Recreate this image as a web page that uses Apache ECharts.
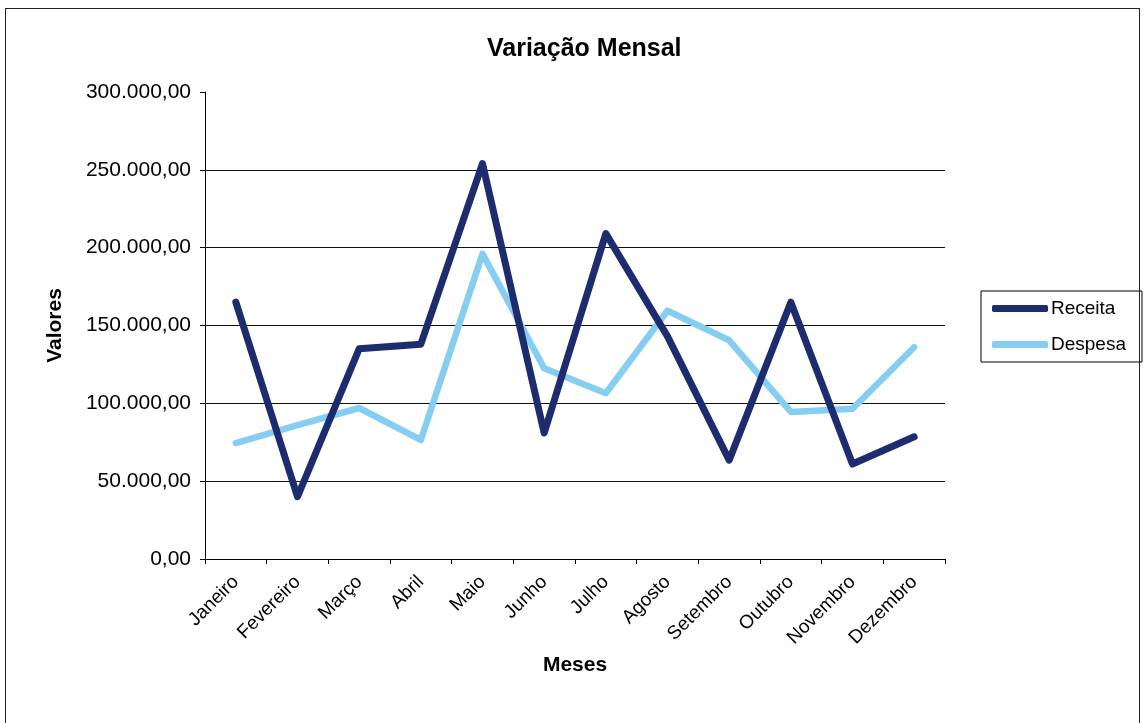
<!doctype html>
<html>
  <head>
    <meta charset="utf-8">
    <script src="https://cdn.jsdelivr.net/npm/echarts@6/dist/echarts.min.js"></script>
    <style type="text/css">
      html,body{margin:0;padding:0;background:#fff;}
      .frame{position:absolute;left:5px;top:8px;width:1135px;height:730px;border:1.5px solid #222;box-sizing:border-box;}
      #main{position:absolute;left:0;top:0;width:1144px;height:723px;}
    </style>
  </head>
  <body>
    <div class="frame"></div>
    <div id="main"></div>
<script>
var meses = ['Janeiro','Fevereiro','Março','Abril','Maio','Junho','Julho','Agosto','Setembro','Outubro','Novembro','Dezembro'];
var receita = [165000, 40000, 135000, 138000, 254000, 81000, 209000, 143000, 63500, 165000, 61000, 78500];
var despesa = [74500, 86000, 97000, 76500, 196000, 122500, 106500, 159500, 140500, 94500, 96500, 136000];
var yTicks = [0, 50000, 100000, 150000, 200000, 250000, 300000];

// 1234567 -> 1.234.567,00
function fmt(v){
  var s = Math.round(v).toString().replace(/\B(?=(\d{3})+(?!\d))/g, '.');
  return s + ',00';
}

var myChart = echarts.init(document.getElementById('main'));
var font = 'Liberation Sans, Arial, sans-serif';

var option = {
  animation:false,
  title:{
    text:'Variação Mensal',
    left:482,
    top:32,
    textStyle:{fontFamily:font,fontSize:25,fontWeight:'bold',color:'#000'}
  },
  legend:{
    orient:'vertical',
    left:981,
    top:291,
    padding:[8,16,8,11],
    itemGap:17,
    itemWidth:56,
    itemHeight:7,
    borderColor:'#000',
    borderWidth:1,
    icon:'roundRect',
    textStyle:{fontFamily:font,fontSize:19,color:'#000',padding:[0,0,0,-2]},
    data:['Receita','Despesa']
  },
  grid:{left:205,right:199,top:92,bottom:164},
  xAxis:{
    type:'category',
    data:meses,
    boundaryGap:true,
    name:'Meses',
    nameLocation:'middle',
    nameGap:83,
    nameTextStyle:{fontFamily:font,fontSize:21,fontWeight:'bold',color:'#000'},
    axisLine:{lineStyle:{color:'#000',width:1}},
    axisTick:{show:true,length:5,lineStyle:{color:'#000'}},
    axisLabel:{rotate:45,fontFamily:font,fontSize:19,color:'#000',margin:20,interval:0},
    splitLine:{show:false}
  },
  yAxis:{
    type:'value',
    min:yTicks[0],
    max:yTicks[yTicks.length-1],
    interval:50000,
    name:'Valores',
    nameLocation:'middle',
    nameGap:139,
    nameTextStyle:{fontFamily:font,fontSize:21,fontWeight:'bold',color:'#000'},
    axisLine:{show:true,lineStyle:{color:'#000',width:1}},
    axisTick:{show:true,length:5,lineStyle:{color:'#000'}},
    axisLabel:{fontFamily:font,fontSize:21,color:'#000',margin:14,formatter:fmt},
    splitLine:{show:true,lineStyle:{color:['#000','#111','#111','#111','#111','#111','rgba(0,0,0,0)'],width:1}}
  },
  series:[
    {
      name:'Receita',
      type:'line',
      data:receita,
      symbol:'none',
      lineStyle:{color:'#1c2c6e',width:7,join:'round',cap:'round'},
      itemStyle:{color:'#1c2c6e'},
      z:3
    },
    {
      name:'Despesa',
      type:'line',
      data:despesa,
      symbol:'none',
      lineStyle:{color:'#86cdf2',width:6.5,join:'round',cap:'round'},
      itemStyle:{color:'#86cdf2'},
      z:2
    }
  ]
};

myChart.setOption(option);
</script>
  </body>
</html>
